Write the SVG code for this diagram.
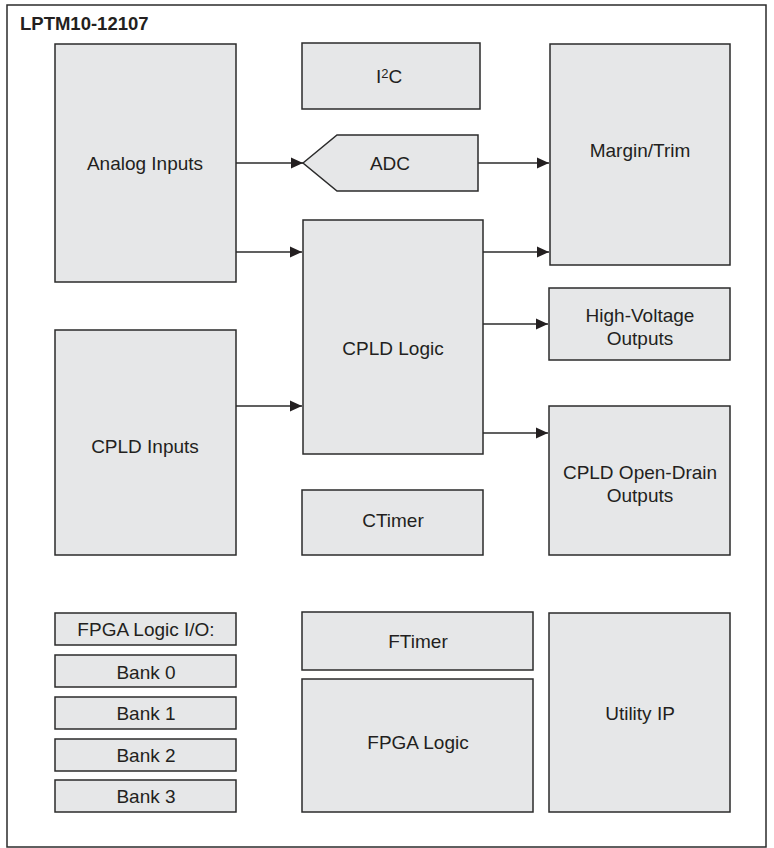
<svg xmlns="http://www.w3.org/2000/svg" width="774" height="848" viewBox="0 0 774 848">
<style>
.box{fill:#e6e7e8;stroke:#2b2b2b;stroke-width:1.5}
.lbl{font-family:"Liberation Sans",Arial,sans-serif;font-size:19px;fill:#231f20;text-anchor:middle}
.ttl{font-family:"Liberation Sans",Arial,sans-serif;font-size:18.5px;font-weight:bold;fill:#231f20}
.wire{stroke:#2b2b2b;stroke-width:1.5;fill:none;marker-end:url(#ah)}
</style>
<defs>
<marker id="ah" markerUnits="userSpaceOnUse" markerWidth="12" markerHeight="12" viewBox="0 0 12 12" refX="12" refY="6" orient="auto">
<path d="M0,0.5 L12,6 L0,11.5 Z" fill="#231f20"/>
</marker>
</defs>
<rect x="7" y="5" width="759" height="842" fill="#fff" stroke="#2b2b2b" stroke-width="1.5"/>
<text class="ttl" x="20" y="30">LPTM10-12107</text>
<g id="analog-inputs"><rect class="box" x="55" y="44" width="181" height="238"/><text class="lbl" x="145" y="170">Analog Inputs</text></g>
<g id="i2c"><rect class="box" x="302" y="43" width="178" height="66"/><text class="lbl" x="389" y="83">I<tspan font-size="13px" dy="-5">2</tspan><tspan dy="5">C</tspan></text></g>
<g id="margin-trim"><rect class="box" x="550" y="44" width="180" height="221"/><text class="lbl" x="640" y="157">Margin/Trim</text></g>
<g id="adc"><path class="box" d="M303,163 L337,135 L478,135 L478,191 L337,191 Z"/><text class="lbl" x="390" y="170">ADC</text></g>
<g id="cpld-logic"><rect class="box" x="303" y="220" width="180" height="234"/><text class="lbl" x="393" y="355">CPLD Logic</text></g>
<g id="high-voltage-outputs"><rect class="box" x="549" y="288" width="181" height="72"/><text class="lbl" x="640" y="322">High-Voltage</text><text class="lbl" x="640" y="345">Outputs</text></g>
<g id="cpld-inputs"><rect class="box" x="55" y="330" width="181" height="225"/><text class="lbl" x="145" y="453">CPLD Inputs</text></g>
<g id="cpld-open-drain-outputs"><rect class="box" x="549" y="406" width="181" height="149"/><text class="lbl" x="640" y="479">CPLD Open-Drain</text><text class="lbl" x="640" y="502">Outputs</text></g>
<g id="ctimer"><rect class="box" x="302" y="490" width="181" height="65"/><text class="lbl" x="393" y="527">CTimer</text></g>
<g id="fpga-logic-io"><rect class="box" x="55" y="613" width="181" height="32"/><text class="lbl" x="146" y="636">FPGA Logic I/O:</text></g>
<g id="bank0"><rect class="box" x="55" y="655" width="181" height="32"/><text class="lbl" x="146" y="679">Bank 0</text></g>
<g id="bank1"><rect class="box" x="55" y="697" width="181" height="32"/><text class="lbl" x="146" y="720">Bank 1</text></g>
<g id="bank2"><rect class="box" x="55" y="739" width="181" height="32"/><text class="lbl" x="146" y="762">Bank 2</text></g>
<g id="bank3"><rect class="box" x="55" y="780" width="181" height="32"/><text class="lbl" x="146" y="803">Bank 3</text></g>
<g id="ftimer"><rect class="box" x="302" y="612" width="231" height="58"/><text class="lbl" x="418" y="648">FTimer</text></g>
<g id="fpga-logic"><rect class="box" x="302" y="679" width="231" height="133"/><text class="lbl" x="418" y="749">FPGA Logic</text></g>
<g id="utility-ip"><rect class="box" x="549" y="613" width="181" height="199"/><text class="lbl" x="640" y="720">Utility IP</text></g>
<g id="connectors">
<line class="wire" x1="236" y1="163" x2="303" y2="163"/>
<line class="wire" x1="478" y1="163" x2="549" y2="163"/>
<line class="wire" x1="236" y1="252" x2="302" y2="252"/>
<line class="wire" x1="483" y1="252" x2="549" y2="252"/>
<line class="wire" x1="483" y1="324" x2="548" y2="324"/>
<line class="wire" x1="483" y1="433" x2="548" y2="433"/>
<line class="wire" x1="236" y1="406" x2="302" y2="406"/>
</g>
</svg>
